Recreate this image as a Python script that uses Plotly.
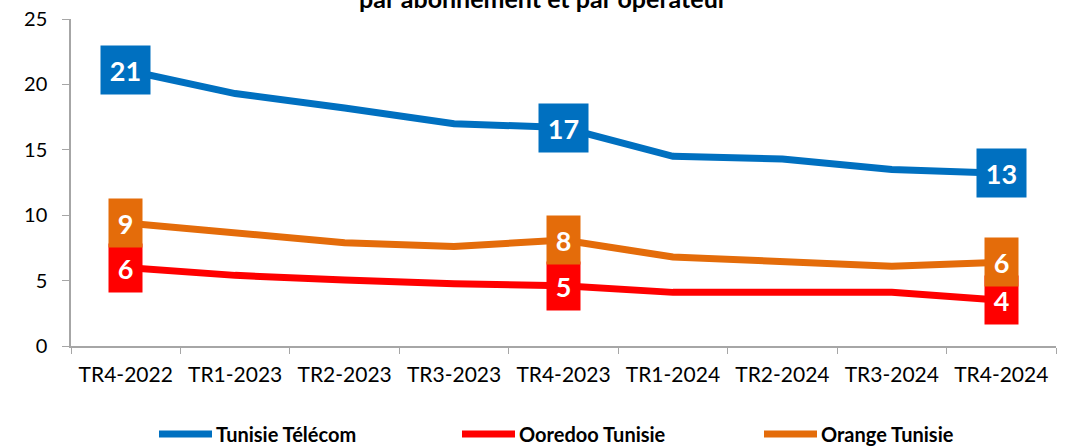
import plotly.graph_objects as go

categories = ["TR4-2022", "TR1-2023", "TR2-2023", "TR3-2023", "TR4-2023",
              "TR1-2024", "TR2-2024", "TR3-2024", "TR4-2024"]
tunisie_telecom = [21.1, 19.3, 18.2, 17.0, 16.7, 14.5, 14.3, 13.5, 13.2]
ooredoo = [6.0, 5.4, 5.05, 4.75, 4.6, 4.1, 4.1, 4.1, 3.5]
orange = [9.4, 8.7, 7.9, 7.6, 8.1, 6.8, 6.4, 6.1, 6.4]
series_names = ["Tunisie Télécom", "Ooredoo Tunisie", "Orange Tunisie"]
label_indices = [0, 4, 8]
title_text = "par abonnement et par opérateur"

colors = ["#0070C0", "#FF0000", "#E46C0A"]
FONT = "Lato, 'Open Sans', sans-serif"

W, H = 1068, 446
ML, MR, MT, MB = 71, 12, 19, 100
PW, PH = W - ML - MR, H - MT - MB


def px_x(px):
    return (px - ML) / PW


def px_y(py):
    return (H - MB - py) / PH


fig = go.Figure()
all_series = [tunisie_telecom, ooredoo, orange]
for name, vals, col in zip(series_names, all_series, colors):
    fig.add_trace(go.Scatter(x=categories, y=vals, name=name, mode="lines",
                             line=dict(color=col, width=7), hoverinfo="skip",
                             showlegend=False))

annotations = []
for vals, col in zip(all_series, colors):
    for i in label_indices:
        txt = f"{round(vals[i]):d}"
        annotations.append(dict(
            x=categories[i], y=vals[i], xref="x", yref="y", text=f"<b>{txt}</b>",
            showarrow=False, bgcolor=col, width=15 + 16 * len(txt), height=46,
            font=dict(family=FONT, size=27, color="white"),
            xanchor="center", yanchor="middle", borderpad=1))

annotations.append(dict(
    x=px_x(543), y=px_y(15), xref="paper", yref="paper", text=f"<b>{title_text}</b>",
    showarrow=False, xanchor="center", yanchor="bottom",
    font=dict(family=FONT, size=25, color="black")))

# legend drawn manually (line sample + label)
shapes = []
legend_starts = [155, 458, 760]
legend_y = 434
for name, col, x0 in zip(series_names, colors, legend_starts):
    shapes.append(dict(type="line", xref="paper", yref="paper",
                       x0=px_x(x0 + 4), x1=px_x(x0 + 57), y0=px_y(legend_y), y1=px_y(legend_y),
                       line=dict(color=col, width=7)))
    annotations.append(dict(x=px_x(x0 + 59), y=px_y(legend_y), xref="paper", yref="paper",
                            text=f"<b>{name}</b>", showarrow=False,
                            xanchor="left", yanchor="middle",
                            font=dict(family=FONT, size=20, color="black")))

fig.update_layout(
    width=W, height=H,
    margin=dict(l=ML, r=MR, t=MT, b=MB, autoexpand=False),
    paper_bgcolor="white", plot_bgcolor="white",
    showlegend=False,
    annotations=annotations,
    shapes=shapes,
    xaxis=dict(type="category", range=[-0.5, 8.5], showgrid=False, automargin=False,
               showline=True, linecolor="#A6A6A6", linewidth=1.5,
               ticks="outside", ticklen=6, tickcolor="#A6A6A6", tickson="boundaries",
               ticklabelstandoff=9,
               tickfont=dict(family=FONT, size=21, color="black")),
    yaxis=dict(range=[0, 25], dtick=5, showgrid=False, zeroline=False, automargin=False,
               showline=True, linecolor="#A6A6A6", linewidth=1.5,
               ticks="outside", ticklen=7, tickcolor="#A6A6A6",
               ticklabelstandoff=11,
               tickfont=dict(family=FONT, size=20, color="black")),
)

fig.write_html("out.html", config={"displayModeBar": False},
               post_script="document.body.style.margin='0';document.body.style.overflow='hidden';")
